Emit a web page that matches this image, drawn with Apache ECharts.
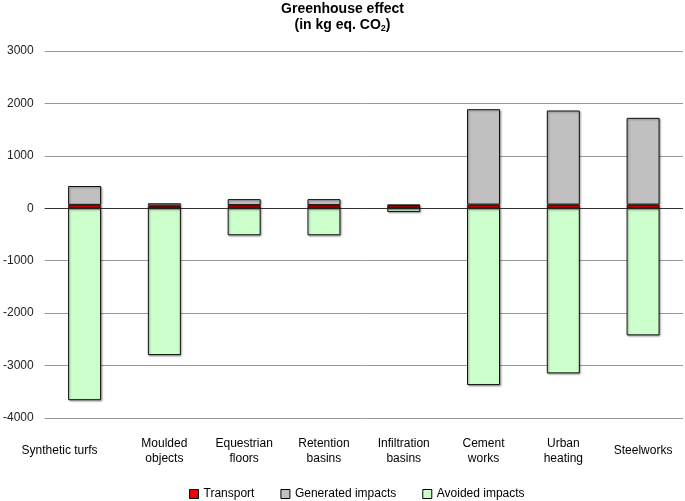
<!DOCTYPE html>
<html>
<head>
<meta charset="utf-8">
<script src="https://cdn.jsdelivr.net/npm/echarts@6/dist/echarts.min.js"></script>
<style>html,body{margin:0;padding:0;background:#fff;}#c{width:685px;height:501px;}</style>
</head>
<body>
<div id="c"></div>
<script>
var categories = ['Synthetic turfs', 'Moulded\nobjects', 'Equestrian\nfloors', 'Retention\nbasins', 'Infiltration\nbasins', 'Cement\nworks', 'Urban\nheating', 'Steelworks'];
var transport = [65, 50, 60, 60, 55, 70, 70, 70];
var generated = [360, 45, 115, 115, 12, 1820, 1795, 1655];
var avoided = [-3660, -2800, -515, -515, -70, -3372, -3149, -2424];
var yTicks = [-4000, -3000, -2000, -1000, 0, 1000, 2000, 3000];

var font = '"Liberation Sans", Arial, Helvetica, sans-serif';
var chart = echarts.init(document.getElementById('c'));
var barBase = {
  type: 'bar',
  stack: 'a',
  barWidth: 33,
  itemStyle: { borderColor: '#111', borderWidth: 1, shadowColor: 'rgba(0,0,0,0.35)', shadowBlur: 2, shadowOffsetX: 1, shadowOffsetY: 1 }
};
chart.setOption({
  animation: false,
  title: {
    text: '{b|Greenhouse effect}\n{b|(in kg eq. CO}{s|2}{b|)}',
    left: 'center',
    top: -4,
    textStyle: {
      rich: {
        b: { fontFamily: font, fontWeight: 'bold', fontSize: 14, color: '#000', lineHeight: 16 },
        s: { fontFamily: font, fontWeight: 'bold', fontSize: 9, color: '#000', lineHeight: 16, verticalAlign: 'bottom', padding: [7, 0, 0, 0] }
      }
    }
  },
  grid: { left: 43, right: 2, top: 51, bottom: 83, containLabel: false },
  legend: {
    bottom: -4,
    left: 184,
    itemWidth: 9,
    itemHeight: 9,
    itemGap: 26,
    icon: 'rect',
    itemStyle: { borderColor: '#000', borderWidth: 1, shadowBlur: 0, shadowOffsetX: 0, shadowOffsetY: 0 },
    textStyle: { fontFamily: font, fontSize: 12, color: '#000' },
    data: ['Transport', 'Generated impacts', 'Avoided impacts']
  },
  xAxis: {
    type: 'category',
    data: categories,
    axisLine: { show: false },
    axisTick: { show: false },
    axisLabel: {
      interval: 0,
      margin: 33,
      verticalAlign: 'middle',
      fontFamily: font,
      fontSize: 12,
      color: '#000',
      lineHeight: 15,
      formatter: function (v, i) { return i === 0 ? '{f|' + v + '}' : v; },
      rich: { f: { fontFamily: font, fontSize: 12, color: '#000', padding: [0, 50, 0, 0] } }
    }
  },
  yAxis: {
    type: 'value',
    min: yTicks[0],
    max: yTicks[yTicks.length - 1],
    interval: 1000,
    axisLine: { show: false },
    axisTick: { show: false },
    axisLabel: { fontFamily: font, fontSize: 12, color: '#222', margin: 11, formatter: function (v) { return String(v); } },
    splitLine: { lineStyle: { color: '#999', width: 1 } }
  },
  series: [
    Object.assign({}, barBase, {
      name: 'Transport', data: transport,
      itemStyle: Object.assign({}, barBase.itemStyle, { color: '#ee0000', borderWidth: 0.8 }),
      markLine: { silent: true, symbol: 'none', label: { show: false }, lineStyle: { color: '#333', width: 1, type: 'solid' }, data: [{ yAxis: 0 }], z: 1 }
    }),
    Object.assign({}, barBase, { name: 'Generated impacts', data: generated, itemStyle: Object.assign({}, barBase.itemStyle, { color: '#c0c0c0' }) }),
    Object.assign({}, barBase, { name: 'Avoided impacts', data: avoided, itemStyle: Object.assign({}, barBase.itemStyle, { color: '#ccffcc' }) })
  ]
});
</script>
</body>
</html>
